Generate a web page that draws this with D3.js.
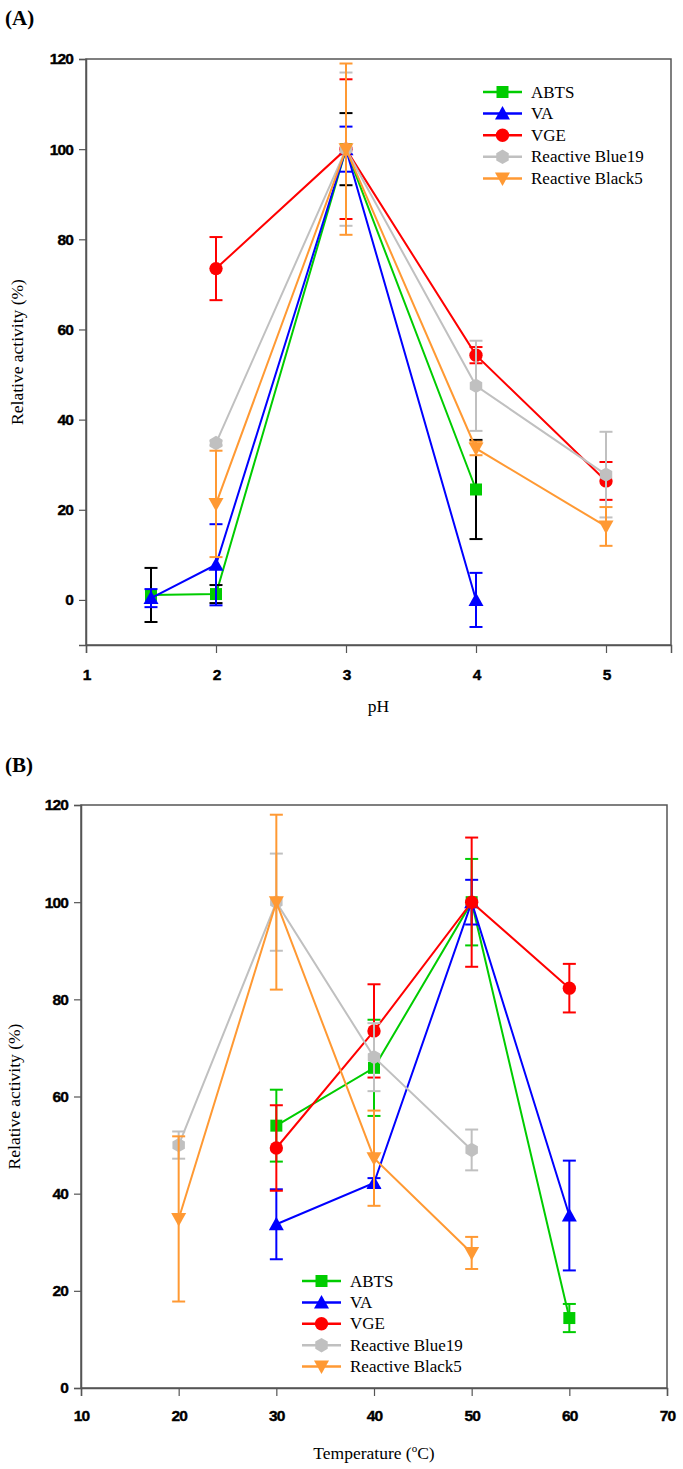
<!DOCTYPE html>
<html><head><meta charset="utf-8">
<script src="https://cdn.jsdelivr.net/npm/d3@7"></script>
<style>
body{margin:0;background:#fff;}
svg{display:block;}
</style></head>
<body>
<svg id="c" width="683" height="1469"></svg>
<script>
// ---------- data ----------
const seriesNames = ["ABTS", "VA", "VGE", "Reactive Blue19", "Reactive Black5"];
const seriesColors = ["#00cc00", "#0000ff", "#ff0000", "#c0c0c0", "#ff9933"];
const seriesShapes = ["square", "triangleUp", "circle", "hexagon", "triangleDown"];

// Panel A (pH)
const pH_ABTS = [1.5, 2, 3, 4], act_ABTS_A = [1.1, 1.3, 100, 24.5], err_ABTS_A = [6, 2, 8, 11];
const pH_VA   = [1.5, 2, 3, 4], act_VA_A   = [0.4, 7.8, 100, 0],    err_VA_A   = [2, 9, 5, 6];
const pH_VGE  = [2, 3, 4, 5],   act_VGE_A  = [73.5, 100, 54.3, 26.4], err_VGE_A = [7, 15.5, 1.8, 4.2];
const pH_RB19 = [2, 3, 4, 5],   act_RB19_A = [34.8, 100, 47.5, 27.8], err_RB19_A = [0.5, 17, 10, 9.5];
const pH_RB5  = [2, 3, 4, 5],   act_RB5_A  = [21.3, 100, 33.6, 16.3], err_RB5_A = [11.8, 19, 1.5, 4.3];
const errColorsA = ["#000000", "#0000ff", "#ff0000", "#c0c0c0", "#ff9933"];
const xTicksA = [1, 2, 3, 4, 5];
const yTicksA = [0, 20, 40, 60, 80, 100, 120];

// Panel B (temperature)
const T_ABTS = [30, 40, 50, 60], act_ABTS_B = [54, 65.9, 100, 14.4], err_ABTS_B = [7.4, 9.9, 8.9, 2.9];
const T_VA   = [30, 40, 50, 60], act_VA_B   = [33.7, 42.2, 100, 35.5], err_VA_B = [7.2, 1, 4.6, 11.3];
const T_VGE  = [30, 40, 50, 60], act_VGE_B  = [49.4, 73.5, 100, 82.3], err_VGE_B = [8.8, 9.6, 13.3, 5];
const T_RB19 = [20, 30, 40, 50], act_RB19_B = [50, 100, 68.1, 49], err_RB19_B = [2.8, 10, 7, 4.2];
const T_RB5  = [20, 30, 40, 50], act_RB5_B  = [34.8, 100, 47.3, 27.8], err_RB5_B = [17, 18, 9.8, 3.3];
const errColorsB = ["#00cc00", "#0000ff", "#ff0000", "#c0c0c0", "#ff9933"];
const xTicksB = [10, 20, 30, 40, 50, 60, 70];
const yTicksB = [0, 20, 40, 60, 80, 100, 120];

const panelA = [
  [pH_ABTS, act_ABTS_A, err_ABTS_A], [pH_VA, act_VA_A, err_VA_A], [pH_VGE, act_VGE_A, err_VGE_A],
  [pH_RB19, act_RB19_A, err_RB19_A], [pH_RB5, act_RB5_A, err_RB5_A]
];
const panelB = [
  [T_ABTS, act_ABTS_B, err_ABTS_B], [T_VA, act_VA_B, err_VA_B], [T_VGE, act_VGE_B, err_VGE_B],
  [T_RB19, act_RB19_B, err_RB19_B], [T_RB5, act_RB5_B, err_RB5_B]
];

// ---------- drawing ----------
const svg = d3.select("#c");
const serif = "'Liberation Serif','Times New Roman',serif";
const sans = "'Liberation Sans',Arial,sans-serif";
const axisColor = "#555";

function markerPath(shape) {
  if (shape === "square") return "M-6,-6H6V6H-6Z";
  if (shape === "circle") return d3.symbol(d3.symbolCircle, 140)();
  if (shape === "triangleUp") return "M0,-7.5L7.5,6L-7.5,6Z";
  if (shape === "triangleDown") return "M0,7.5L7.5,-6L-7.5,-6Z";
  if (shape === "hexagon") {
    const r = 7.2; let p = [];
    for (let i = 0; i < 6; i++) { const a = Math.PI / 3 * i + Math.PI / 6; p.push([r * Math.cos(a), r * Math.sin(a)]); }
    return "M" + p.map(d => d.join(",")).join("L") + "Z";
  }
}

function drawPanel(cfg) {
  const g = svg.append("g");
  const x = d3.scaleLinear().domain(cfg.xDomain).range([cfg.left, cfg.right]);
  const y = d3.scaleLinear().domain(cfg.yDomain).range([cfg.bottom, cfg.top]);

  // frame
  g.append("rect").attr("x", cfg.left).attr("y", cfg.top)
    .attr("width", cfg.right - cfg.left).attr("height", cfg.bottom - cfg.top)
    .attr("fill", "none").attr("stroke", axisColor).attr("stroke-width", 1.5);

  // axes
  const xa = g.append("g").attr("transform", `translate(0,${cfg.bottom})`)
    .call(d3.axisBottom(x).tickValues(cfg.xTicks).tickSize(8).tickPadding(cfg.xPad).tickFormat(d3.format("d")));
  const ya = g.append("g").attr("transform", `translate(${cfg.left},0)`)
    .call(d3.axisLeft(y).tickValues(cfg.yTicks).tickSize(7).tickPadding(6).tickFormat(d3.format("d")));
  [xa, ya].forEach(a => {
    a.select(".domain").attr("stroke", axisColor).attr("stroke-width", 1.5);
    a.selectAll(".tick line").attr("stroke", axisColor).attr("stroke-width", 1.2);
    a.selectAll(".tick text").attr("fill", "#000").style("font-family", sans)
      .style("font-weight", "bold").style("font-size", "15.5px").style("letter-spacing", "-0.9px")
      .attr("stroke", "#000").attr("stroke-width", 0.4);
  });

  // series
  cfg.data.forEach((s, i) => {
    const [xs, vs, es] = s;
    const pts = xs.map((d, k) => ({ x: d, v: vs[k], e: es[k] }));
    const col = seriesColors[i];
    const sg = g.append("g");
    sg.append("path").datum(pts)
      .attr("d", d3.line().x(d => x(d.x)).y(d => y(d.v)))
      .attr("fill", "none").attr("stroke", col).attr("stroke-width", 2);
    const eg = sg.selectAll("g.err").data(pts).join("g").attr("stroke", cfg.errColors[i]).attr("stroke-width", 2);
    eg.append("line").attr("x1", d => x(d.x)).attr("x2", d => x(d.x))
      .attr("y1", d => y(d.v - d.e)).attr("y2", d => y(d.v + d.e));
    eg.append("line").attr("x1", d => x(d.x) - 6.5).attr("x2", d => x(d.x) + 6.5)
      .attr("y1", d => y(d.v + d.e)).attr("y2", d => y(d.v + d.e));
    eg.append("line").attr("x1", d => x(d.x) - 6.5).attr("x2", d => x(d.x) + 6.5)
      .attr("y1", d => y(d.v - d.e)).attr("y2", d => y(d.v - d.e));
    sg.selectAll("path.m").data(pts).join("path").attr("class", "m")
      .attr("d", markerPath(seriesShapes[i]))
      .attr("transform", d => `translate(${x(d.x)},${y(d.v)})`)
      .attr("fill", col);
  });

  // legend
  const lg = g.append("g");
  seriesNames.forEach((n, i) => {
    const yy = cfg.legY + i * cfg.legStep;
    lg.append("line").attr("x1", cfg.legX).attr("x2", cfg.legX + 39).attr("y1", yy).attr("y2", yy)
      .attr("stroke", seriesColors[i]).attr("stroke-width", 2.5);
    lg.append("path").attr("d", markerPath(seriesShapes[i]))
      .attr("transform", `translate(${cfg.legX + 19.5},${yy})`).attr("fill", seriesColors[i]);
    lg.append("text").attr("x", cfg.legX + 48).attr("y", yy + 5.5).text(n)
      .style("font-family", serif).style("font-size", "17px").attr("fill", "#000");
  });

  // labels
  g.append("text").attr("x", 5).attr("y", cfg.tagY).text(cfg.tag)
    .style("font-family", serif).style("font-weight", "bold").style("font-size", "21px");
  g.append("text").attr("transform", `translate(${cfg.yTitleX},${(cfg.top + cfg.bottom) / 2}) rotate(-90)`)
    .attr("text-anchor", "middle").text("Relative activity (%)")
    .style("font-family", serif).style("font-size", "17.5px");
  const xt = g.append("text").attr("x", (cfg.left + cfg.right) / 2).attr("y", cfg.xTitleY)
    .attr("text-anchor", "middle").style("font-family", serif).style("font-size", "17.5px");
  cfg.xTitle(xt);
}

drawPanel({
  left: 86, right: 671, top: 59, bottom: 645,
  xDomain: [1, 5.5], yDomain: [-10, 120], xTicks: xTicksA, yTicks: yTicksA,
  data: panelA, errColors: errColorsA, xPad: 16,
  legX: 483, legY: 92, legStep: 21.6,
  tag: "(A)", tagY: 25, yTitleX: 23, xTitleY: 712,
  xTitle: t => t.text("pH")
});

drawPanel({
  left: 81, right: 667, top: 805, bottom: 1388,
  xDomain: [10, 70], yDomain: [0, 120], xTicks: xTicksB, yTicks: yTicksB,
  data: panelB, errColors: errColorsB, xPad: 14,
  legX: 302, legY: 1281, legStep: 21.4,
  tag: "(B)", tagY: 772, yTitleX: 20, xTitleY: 1459,
  xTitle: t => {
    t.append("tspan").text("Temperature (");
    t.append("tspan").attr("dy", -7).style("font-size", "11px").text("o");
    t.append("tspan").attr("dy", 7).text("C)");
  }
});
</script>
</body></html>
